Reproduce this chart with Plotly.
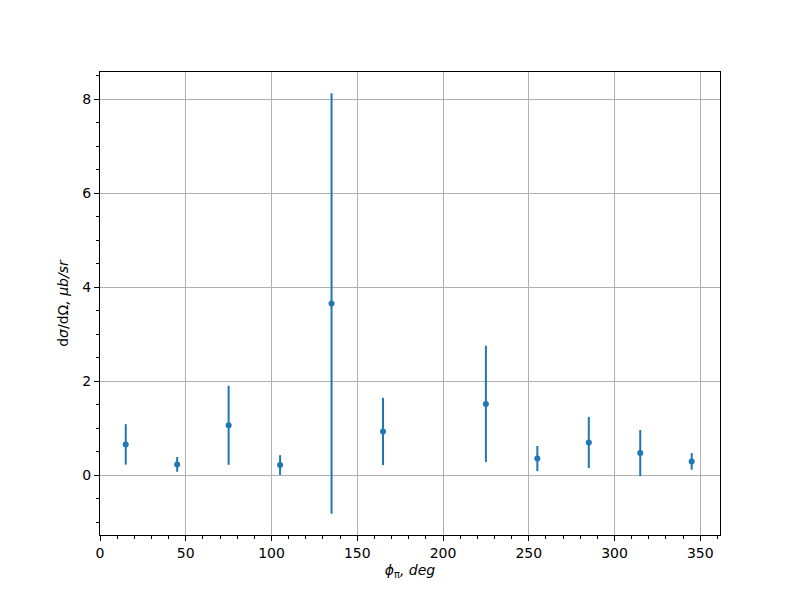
import plotly.graph_objects as go

phi = [15, 45, 75, 105, 135, 165, 225, 255, 285, 315, 345]
xsec = [0.66, 0.235, 1.066, 0.22, 3.655, 0.934, 1.52, 0.358, 0.70, 0.475, 0.298]
err = [0.43, 0.157, 0.84, 0.21, 4.47, 0.715, 1.237, 0.267, 0.544, 0.49, 0.178]

x_ticks = [0, 50, 100, 150, 200, 250, 300, 350]
y_ticks = [0, 2, 4, 6, 8]

color = "#1f77b4"
font = dict(family="DejaVu Sans", size=14, color="black")

fig = go.Figure()
fig.add_trace(go.Scatter(
    x=phi, y=xsec, mode="markers",
    marker=dict(color=color, size=6),
    error_y=dict(type="data", array=err, visible=True, color=color,
                 thickness=2, width=0),
    showlegend=False,
))

axis_common = dict(
    showgrid=True, gridcolor="#b0b0b0", gridwidth=1,
    zeroline=False, showline=True, linecolor="black", linewidth=1,
    mirror=True, ticks="outside", ticklen=5, tickwidth=1, tickcolor="black",
    tickfont=font,
)

fig.update_layout(
    width=800, height=600,
    margin=dict(l=92, r=88, t=64, b=73),
    paper_bgcolor="white", plot_bgcolor="white",
    font=font,
    xaxis=dict(range=[0, 361.5], tickvals=x_ticks,
               minor=dict(dtick=10, tick0=0, ticks="outside", ticklen=3, tickcolor="black", showgrid=False),
               title=dict(text="<i>ϕ</i><sub>π</sub><i>, deg</i>", font=font, standoff=5),
               **axis_common),
    yaxis=dict(range=[-1.266, 8.575], tickvals=y_ticks,
               minor=dict(dtick=0.5, tick0=0, ticks="outside", ticklen=3, tickcolor="black", showgrid=False),
               title=dict(text="d<i>σ</i>/dΩ<i>, μb/sr</i>", font=font, standoff=10),
               **axis_common),
)

fig.write_html("out.html")
